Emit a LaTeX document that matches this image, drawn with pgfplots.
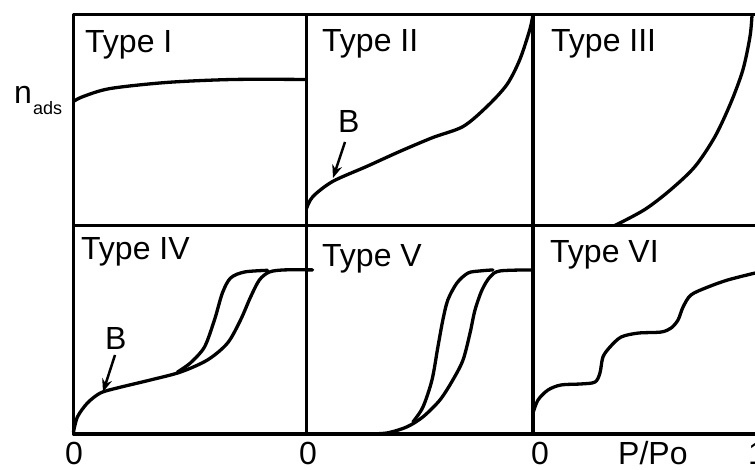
\documentclass[border=0pt]{standalone}
\usepackage{pgfplots}
\pgfplotsset{compat=1.18}
\usepackage{fontspec}
\setmainfont{Liberation Sans}
\usetikzlibrary{arrows.meta}

\pgfplotsset{
  panel/.style={
    scale only axis, anchor=south west,
    xmin=0, xmax=1, ymin=0, ymax=1,
    xtick=\empty, ytick=\empty,
    line width=3.3pt, line join=round,
  },
  iso/.style={black, line width=3.3pt, smooth, tension=0.5, line cap=round},
}

\begin{document}
\begin{tikzpicture}[x=1pt, y=1pt]
\clip (0,0) rectangle (755,470);
\fontsize{32}{38}\selectfont

% ---- top row ----
\begin{axis}[panel, at={(73.5pt,244.5pt)}, width=233pt, height=211pt]
  % Type I
  \addplot[iso] coordinates {
    (0,0.588) (0.041,0.611) (0.157,0.649) (0.401,0.678) (0.685,0.692) (1,0.692)};
\end{axis}

\begin{axis}[panel, at={(306.5pt,244.5pt)}, width=226.5pt, height=211pt]
  % Type II
  \addplot[iso] coordinates {
    (0,0.08) (0.028,0.137) (0.116,0.209) (0.266,0.280) (0.412,0.351)
    (0.558,0.417) (0.691,0.469) (0.797,0.564) (0.885,0.668) (0.942,0.787)
    (0.986,0.929) (1.0,1.0)};
\end{axis}

\begin{axis}[panel, at={(533pt,244.5pt)}, width=227pt, height=211pt]
  % Type III
  \addplot[iso] coordinates {
    (0.361,0) (0.493,0.076) (0.608,0.171) (0.714,0.280) (0.802,0.422)
    (0.872,0.583) (0.925,0.739) (0.956,0.896) (0.965,1.0)};
\end{axis}

% ---- bottom row ----
\begin{axis}[panel, at={(73.5pt,36pt)}, width=233pt, height=208.5pt, clip=false]
  % Type IV: adsorption branch
  \addplot[iso] coordinates {
    (0,0.01) (0.017,0.082) (0.060,0.149) (0.116,0.197) (0.189,0.221)
    (0.330,0.259) (0.459,0.297) (0.575,0.355) (0.661,0.436) (0.717,0.547)
    (0.760,0.657) (0.798,0.739) (0.841,0.777) (0.906,0.787) (1.026,0.787)};
  % Type IV: desorption branch
  \addplot[iso] coordinates {
    (0.446,0.297) (0.502,0.341) (0.562,0.417) (0.605,0.547) (0.639,0.676)
    (0.674,0.748) (0.734,0.777) (0.833,0.785)};
\end{axis}

\begin{axis}[panel, at={(306.5pt,36pt)}, width=226.5pt, height=208.5pt]
  % Type V: adsorption branch
  \addplot[iso] coordinates {
    (0.266,0) (0.355,0.005) (0.443,0.034) (0.514,0.082) (0.589,0.163)
    (0.646,0.259) (0.691,0.355) (0.722,0.484) (0.744,0.595) (0.775,0.691)
    (0.810,0.753) (0.854,0.782) (1.0,0.787)};
  % Type V: desorption branch
  \addplot[iso] coordinates {
    (0.470,0.058) (0.514,0.129) (0.554,0.259) (0.580,0.417) (0.602,0.547)
    (0.624,0.643) (0.664,0.724) (0.713,0.772) (0.766,0.782) (0.823,0.787)};
\end{axis}

\begin{axis}[panel, at={(533pt,36pt)}, width=227pt, height=208.5pt]
  % Type VI: stepwise multilayer
  \addplot[iso] coordinates {
    (0,0.101) (0.022,0.163) (0.066,0.211) (0.123,0.235) (0.211,0.240)
    (0.273,0.249) (0.295,0.293) (0.308,0.369) (0.339,0.417) (0.388,0.465)
    (0.463,0.484) (0.564,0.489) (0.608,0.508) (0.639,0.547) (0.661,0.609)
    (0.696,0.667) (0.771,0.705) (0.859,0.739) (0.978,0.772)};
\end{axis}

% ---- panel titles ----
\node[anchor=base west, inner sep=0] at (85,417) {Type I};
\node[anchor=base west, inner sep=0] at (322,418) {Type II};
\node[anchor=base west, inner sep=0] at (551,418) {Type III};
\node[anchor=base west, inner sep=0] at (81,210) {Type IV};
\node[anchor=base west, inner sep=0] at (322,203) {Type V};
\node[anchor=base west, inner sep=0] at (550,207) {Type VI};

% ---- y label ----
\node[anchor=base west, inner sep=0] at (14,366) {n};
\node[anchor=base west, inner sep=0, font=\fontsize{18}{20}\selectfont] at (33,355) {ads};

% ---- point B markers ----
\node[anchor=base west, inner sep=0] at (338,337) {B};
\draw[line width=2.5pt, -{Stealth[length=13pt,width=10pt]}] (345,328) -- (333,292);
\node[anchor=base west, inner sep=0] at (105,120) {B};
\draw[line width=2.5pt, -{Stealth[length=13pt,width=10pt]}] (115,115) -- (103,78);

% ---- x labels ----
\node[anchor=base, inner sep=0] at (74,5) {0};
\node[anchor=base, inner sep=0] at (308,5) {0};
\node[anchor=base, inner sep=0] at (540,5) {0};
\node[anchor=base west, inner sep=0] at (618,5) {P/Po};
\node[anchor=base west, inner sep=0] at (748,5) {1};
\end{tikzpicture}
\end{document}
